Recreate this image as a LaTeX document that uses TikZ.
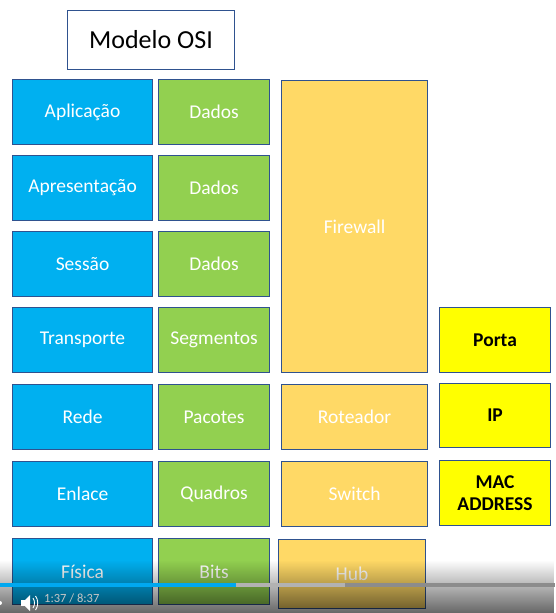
\documentclass[tikz,border=0pt]{standalone}
\usepackage{fontspec}
\setmainfont{Carlito}
\usetikzlibrary{fadings}
\definecolor{osiblue}{HTML}{00B0F0}
\definecolor{osigreen}{HTML}{92D050}
\definecolor{osiorange}{HTML}{FFD966}
\definecolor{osiyellow}{HTML}{FFFF00}
\definecolor{osiedge}{HTML}{2F528F}
\definecolor{barblue}{HTML}{00A8F0}
\tikzfading[name=fadeup, top color=transparent!100, bottom color=transparent!0]
\begin{document}
\begin{tikzpicture}[x=1pt,y=-1pt,
  box/.style={draw=osiedge, line width=1.1pt, anchor=north west, inner sep=0pt,
    text=white, font=\fontsize{19.5}{21}\selectfont, align=center},
  bluebox/.style={box, fill=osiblue, minimum width=140pt, minimum height=65pt},
  greenbox/.style={box, fill=osigreen, minimum width=111pt, minimum height=65pt},
  orangebox/.style={box, fill=osiorange, minimum width=146pt, minimum height=65pt},
  yellowbox/.style={box, fill=osiyellow, minimum width=111pt, minimum height=65pt,
    text=black, font=\fontsize{19.5}{22}\selectfont\bfseries},
  titlebox/.style={draw=osiedge, line width=1.1pt, fill=white, anchor=north west,
    minimum width=167pt, minimum height=59pt, font=\fontsize{26}{28}\selectfont}]
\useasboundingbox (0,0) rectangle (555,613);
\fill[white] (0,0) rectangle (555,613);

\node[titlebox] (title) at (67,10) {Modelo OSI};

\node[bluebox] (apl) at (12,79) {Aplicação};
\node[bluebox] (apr) at (12,155) {Apresentação};
\node[bluebox] (ses) at (12,231) {Sessão};
\node[bluebox] (tra) at (12,307) {Transporte};
\node[bluebox] (red) at (12,384) {Rede};
\node[bluebox] (enl) at (12,461) {Enlace};
\node[bluebox, minimum height=66pt] (fis) at (12,538) {Física};

\node[greenbox] (d1) at (158,79) {Dados};
\node[greenbox] (d2) at (158,155) {Dados};
\node[greenbox] (d3) at (158,231) {Dados};
\node[greenbox] (seg) at (158,307) {Segmentos};
\node[greenbox] (pac) at (158,384) {Pacotes};
\node[greenbox] (qua) at (158,461) {Quadros};
\node[greenbox, minimum height=66pt] (bit) at (158,538) {Bits};

\node[orangebox, minimum height=292pt] (fw) at (281,80) {Firewall};
\node[orangebox] (rot) at (281,384) {Roteador};
\node[orangebox] (sw) at (281,461) {Switch};
\node[orangebox, minimum width=147pt, minimum height=69pt] (hub) at (278,539) {Hub};

\node[yellowbox] (porta) at (439,307) {Porta};
\node[yellowbox, minimum height=64pt] (ip) at (439,383) {IP};
\node[yellowbox] (mac) at (439,460) {MAC\\ADDRESS};

% video player overlay
\fill[black, path fading=fadeup, fill opacity=0.6] (0,560) rectangle (555,613);
\fill[barblue] (0,583) rectangle (236,587);
\fill[gray!60] (236,583) rectangle (345,587);
\fill[gray!90] (345,583) rectangle (555,587);
\fill[white] (0,603) circle (2);
\fill[white] (21,600) rectangle (25,606);
\fill[white] (25,600) -- (30,595) -- (30,611) -- (25,606) -- cycle;
\draw[white, line width=0.9pt] (33,598) .. controls (35,601) and (35,605) .. (33,608);
\draw[white, line width=0.9pt] (35.5,596) .. controls (38.5,600) and (38.5,606) .. (35.5,610);
\node[anchor=west, inner sep=0pt, text=gray!45, font=\fontsize{12.5}{13}\selectfont] (time) at (44,598) {1:37 / 8:37};
\end{tikzpicture}
\end{document}
